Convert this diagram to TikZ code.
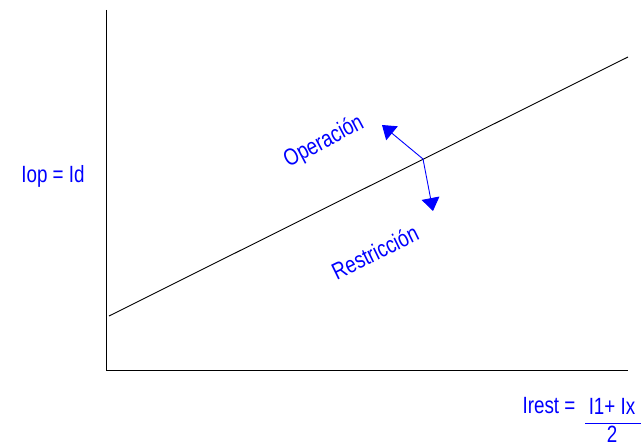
\documentclass[tikz,border=0pt]{standalone}
\usepackage{fontspec}
\setmainfont{Liberation Sans}[FakeStretch=0.8]
\usetikzlibrary{arrows.meta}
\definecolor{lblblue}{RGB}{0,0,255}
\begin{document}
\begin{tikzpicture}[x=1pt,y=-1pt,
  axis/.style={draw=black,line width=1pt},
  curve/.style={draw=black,line width=0.9pt},
  dirarrow/.style={draw=lblblue,line width=0.9pt,-{Triangle[length=13pt,width=18pt]}},
  lbl/.style={text=lblblue,font=\fontsize{23.5}{26}\selectfont,inner sep=0pt}]
\useasboundingbox (0,0) rectangle (642,443);
\coordinate (top) at (106,10);
\coordinate (origin) at (106,370);
\coordinate (xend) at (628,370);
\coordinate (ls) at (109,316);
\coordinate (le) at (628,57);
\coordinate (p) at (423,159);
\coordinate (upt) at (382,125);
\coordinate (dnt) at (433,211);
\draw[axis] (top) -- (origin) -- (xend);
\draw[curve] (ls) -- (le);
\draw[dirarrow] (p) -- (upt);
\draw[dirarrow] (p) -- (dnt);
\node[lbl,rotate=28] (op) at (324,142) {Operación};
\node[lbl,rotate=26] (re) at (375,252) {Restricción};
\node[lbl] (iop) at (53,176.5) {Iop = Id};
\node[lbl] (irest) at (549,406) {Irest =};
\node[lbl] (num) at (612,406) {I1+ Ix};
\node[lbl] (den) at (612,434) {2};
\coordinate (fl) at (585,423);
\coordinate (fr) at (641,423);
\draw[draw=lblblue,line width=1pt] (fl) -- (fr);
\end{tikzpicture}
\end{document}
